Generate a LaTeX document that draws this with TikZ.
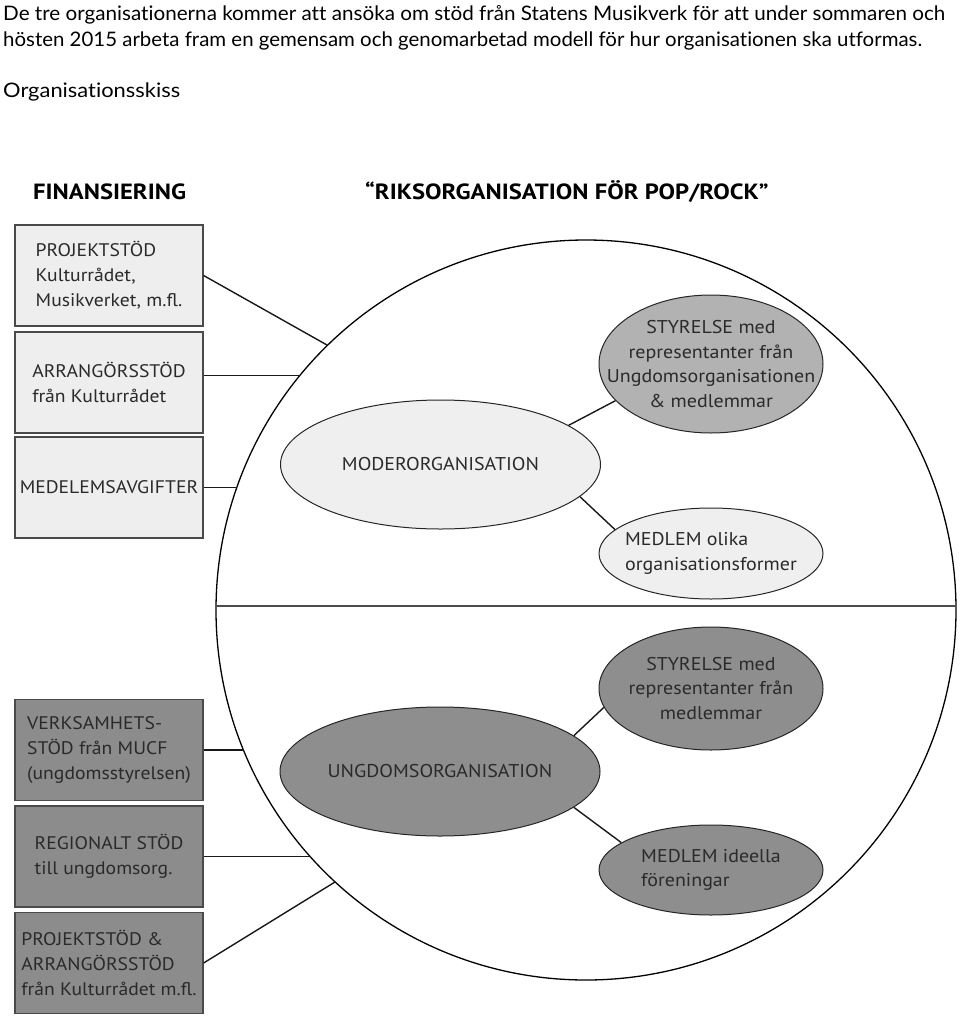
\documentclass[tikz,border=0pt]{standalone}
\usepackage{fontspec}
\usepackage{graphicx}
\setmainfont{Lato}[Ligatures=NoCommon]
\newfontfamily\dfont{PT Sans}[FakeStretch=1.08]
\newfontfamily\hfont{PT Sans}[FakeStretch=1.12]
\usetikzlibrary{shapes.geometric}
\definecolor{boxlight}{HTML}{EEEEEE}
\definecolor{boxdark}{HTML}{8C8C8C}
\definecolor{elllight}{HTML}{EFEFEF}
\definecolor{ellmid}{HTML}{B2B2B2}
\definecolor{elldark}{HTML}{8E8E8E}
\definecolor{edgegray}{HTML}{4A4A4A}
\definecolor{txt}{HTML}{2A2A2A}
\tikzset{
  toptext/.style={anchor=base west, inner sep=0pt, font=\fontsize{20}{24}\selectfont, text=black},
  headtext/.style={anchor=base west, inner sep=0pt, font=\hfont\bfseries\fontsize{22}{24}\selectfont, text=black},
  finbox/.style={draw=edgegray, line width=1.2pt, minimum width=188pt, minimum height=101pt,
    inner sep=0pt, align=left, font=\dfont\fontsize{18.2}{25}\selectfont, text=txt},
  lightbox/.style={finbox, fill=boxlight},
  darkbox/.style={finbox, fill=boxdark},
  ell/.style={ellipse, draw=black!85, line width=1pt, inner sep=0pt},
  elltext/.style={inner sep=0pt, font=\dfont\fontsize{18.5}{24.5}\selectfont, text=txt},
  conn/.style={draw=black!90, line width=1.4pt},
  divider/.style={draw=black!70, line width=2pt},
}
\begin{document}
\begin{tikzpicture}[x=1pt,y=-1pt]
\fill[white] (0,0) rectangle (960,1018);
\useasboundingbox (0,0) rectangle (960,1018);

% intro text
\node[toptext] (p1) at (3,20) {\resizebox{942pt}{\height}{De tre organisationerna kommer att ansöka om stöd från Statens Musikverk för att under sommaren och}};
\node[toptext] (p2) at (3,46) {\resizebox{919pt}{\height}{hösten 2015 arbeta fram en gemensam och genomarbetad modell för hur organisationen ska utformas.}};
\node[toptext] (p3) at (3,97) {\resizebox{177pt}{\height}{Organisationsskiss}};

% headings
\node[headtext] (fin) at (33,199) {FINANSIERING};
\node[headtext] (riks) at (365,199) {“RIKSORGANISATION FÖR POP/ROCK”};

% big circle and divider
\node[draw=black, circle, minimum size=740pt, inner sep=0pt, line width=1.3pt] (circ) at (586,610) {};
\coordinate (dl) at (216,606);
\coordinate (dr) at (956,606);
\draw[divider] (dl) -- (dr);

% points where the financing lines meet the circle
\coordinate (c1) at (327,345);
\coordinate (c2) at (300.2,375.5);
\coordinate (c3) at (236.9,487.5);
\coordinate (c4) at (243.5,750);
\coordinate (c5) at (310.1,856.5);
\coordinate (c6) at (335,882);

% financing boxes
\node[lightbox] (b1) at (109,275.5) {PROJEKTSTÖD\\Kulturrådet,\\Musikverket, m.fl.};
\node[lightbox] (b2) at (109,382.5) {ARRANGÖRSSTÖD\\från Kulturrådet};
\node[lightbox] (b3) at (109,487.5) {MEDELEMSAVGIFTER};
\node[darkbox] (b4) at (109,750) {VERKSAMHETS-\\STÖD från MUCF\\(ungdomsstyrelsen)};
\node[darkbox] (b5) at (109,856.5) {REGIONALT STÖD\\till ungdomsorg.};
\node[darkbox] (b6) at (109,963) {PROJEKTSTÖD \&\\ARRANGÖRSSTÖD\\från Kulturrådet m.fl.};

% connectors boxes -> circle
\draw[conn] (b1.east) -- (c1);
\draw[conn] ([yshift=7pt]b2.east) -- (c2);
\draw[conn] (b3.east) -- (c3);
\draw[conn] (b4.east) -- (c4);
\draw[conn] (b5.east) -- (c5);
\draw[conn] (b6.east) -- (c6);

% ellipses
\node[ell, fill=elllight, minimum width=320pt, minimum height=129pt] (moder) at (440.5,464.5) {};
\node[elltext] (modert) at (moder.center) {MODERORGANISATION};
\node[ell, fill=ellmid, minimum width=224pt, minimum height=138pt] (styr1) at (711,364) {};
\node[elltext, align=center] (styr1t) at (styr1.center) {STYRELSE med\\representanter från\\Ungdomsorganisationen\\\& medlemmar};
\node[ell, fill=elllight, minimum width=224pt, minimum height=91pt] (med1) at (711,553.5) {};
\node[elltext, align=left] (med1t) at (med1.center) {MEDLEM olika\\organisationsformer};

\node[ell, fill=elldark, minimum width=320pt, minimum height=129pt] (ungd) at (440,771.5) {};
\node[elltext] (ungdt) at (ungd.center) {UNGDOMSORGANISATION};
\node[ell, fill=elldark, minimum width=224pt, minimum height=123pt] (styr2) at (711,688.5) {};
\node[elltext, align=center] (styr2t) at (styr2.center) {STYRELSE med\\representanter från\\medlemmar};
\node[ell, fill=elldark, minimum width=224pt, minimum height=90pt] (med2) at (711,870) {};
\node[elltext, align=left] (med2t) at (med2.center) {MEDLEM ideella\\föreningar};

% connectors between ellipses
\draw[conn] (moder.17.9) -- (styr1.201.1);
\draw[conn] (moder.347.8) -- (med1.166.4);
\draw[conn] (ungd.15.5) -- (styr2.190.9);
\draw[conn] (ungd.345.4) -- (med2.163.7);
\end{tikzpicture}
\end{document}
